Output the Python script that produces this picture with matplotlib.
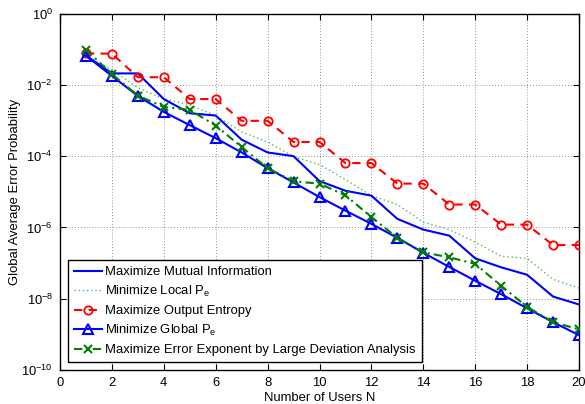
import matplotlib
matplotlib.use('Agg')
import matplotlib.pyplot as plt
from matplotlib.ticker import NullLocator, FixedLocator

plt.rcParams['font.family'] = ['Liberation Sans', 'DejaVu Sans']
plt.rcParams['mathtext.fontset'] = 'custom'
plt.rcParams['mathtext.rm'] = 'Liberation Sans'
plt.rcParams['mathtext.it'] = 'Liberation Sans:italic'
plt.rcParams['mathtext.default'] = 'regular'

# ---------------- data ----------------
users = list(range(1, 21))
mutual_info = [6.6e-2, 2.1e-2, 2.1e-2, 4.0e-3, 1.6e-3, 1.38e-3, 2.9e-4, 1.27e-4, 1.0e-4, 2.0e-5,
               1.07e-5, 7.8e-6, 1.74e-6, 8.7e-7, 5.9e-7, 1.36e-7, 7.6e-8, 4.7e-8, 1.15e-8, 6.9e-9]
local_pe = [7.0e-2, 2.6e-2, 8.3e-3, 4.0e-3, 2.75e-3, 1.38e-3, 4.8e-4, 2.5e-4, 9.8e-5, 5.8e-5,
            2.2e-5, 7.8e-6, 4.4e-6, 1.4e-6, 8.7e-7, 3.9e-7, 1.55e-7, 1.34e-7, 3.5e-8, 2.0e-8]
output_entropy = [7.7e-2, 7.5e-2, 1.64e-2, 1.64e-2, 4.0e-3, 4.0e-3, 9.8e-4, 9.8e-4, 2.5e-4, 2.5e-4,
                  6.4e-5, 6.4e-5, 1.7e-5, 1.7e-5, 4.4e-6, 4.4e-6, 1.2e-6, 1.2e-6, 3.2e-7, 3.2e-7]
global_pe = [6.6e-2, 1.79e-2, 4.9e-3, 1.75e-3, 7.4e-4, 3.2e-4, 1.27e-4, 4.6e-5, 1.83e-5, 7.1e-6,
             2.96e-6, 1.26e-6, 5.1e-7, 1.94e-7, 7.8e-8, 3.2e-8, 1.34e-8, 5.4e-9, 2.2e-9, 9.5e-10]
error_exponent = [9.8e-2, 2.0e-2, 5.0e-3, 2.4e-3, 2.0e-3, 7.2e-4, 1.8e-4, 4.6e-5, 1.96e-5, 1.7e-5,
                  7.9e-6, 1.96e-6, 5.1e-7, 2.0e-7, 1.45e-7, 9.5e-8, 2.3e-8, 5.9e-9, 2.2e-9, 1.38e-9]

labels = ['Maximize Mutual Information',
          'Minimize Local P$_e$',
          'Maximize Output Entropy',
          'Minimize Global P$_e$',
          'Maximize Error Exponent by Large Deviation Analysis']
xticks = list(range(0, 21, 2))
yticks = [1e0, 1e-2, 1e-4, 1e-6, 1e-8, 1e-10]

FS = 9.4

fig = plt.figure(figsize=(5.85, 4.04), dpi=100)
ax = fig.add_axes([60 / 585, 1 - 370 / 404, 519 / 585, 356.4 / 404])

ax.semilogy(users, mutual_info, color='#0000ff', lw=1.5, ls='-', label=labels[0], zorder=3)
ax.semilogy(users, local_pe, color='#55bb55', lw=1.0, ls=(0, (1, 2)), label=labels[1], zorder=2)
ax.semilogy(users, output_entropy, color='#ff0000', lw=1.5, ls=(0, (4, 3)), marker='o',
            markersize=6, markerfacecolor='none', markeredgewidth=1.3, label=labels[2], zorder=3)
ax.semilogy(users, global_pe, color='#0000ff', lw=1.5, ls='-', marker='^',
            markersize=6.5, markerfacecolor='none', markeredgewidth=1.5, label=labels[3], zorder=4)
ax.semilogy(users, error_exponent, color='#007f00', lw=1.5, ls=(0, (4, 2, 1, 2)), marker='x',
            markersize=6, markeredgewidth=1.5, label=labels[4], zorder=5)

ax.set_xlim(0, 20)
ax.set_ylim(1e-10, 1e0)
ax.xaxis.set_major_locator(FixedLocator(xticks))
ax.yaxis.set_major_locator(FixedLocator(yticks))
ax.yaxis.set_minor_locator(NullLocator())
ax.xaxis.set_minor_locator(NullLocator())

ax.grid(True, which='major', color='0.45', linestyle=(0, (1, 2.5)), linewidth=0.6)
ax.tick_params(which='both', direction='in', top=True, right=True, length=4, width=0.8,
               labelsize=FS, pad=5)
for s in ax.spines.values():
    s.set_linewidth(1.0)
    s.set_color('black')

ax.set_xlabel('Number of Users N', fontsize=FS, labelpad=2)
ax.set_ylabel('Global Average Error Probability', fontsize=FS, labelpad=0)

leg = ax.legend(loc='lower left', bbox_to_anchor=(0.0154, 0.0224), fontsize=FS,
                frameon=True, fancybox=False, framealpha=1, edgecolor='black',
                handlelength=2.15, handletextpad=0.25, borderpad=0.45, labelspacing=0.45,
                borderaxespad=0)
leg.get_frame().set_linewidth(1.0)

fig.savefig('out.png', dpi=100)
